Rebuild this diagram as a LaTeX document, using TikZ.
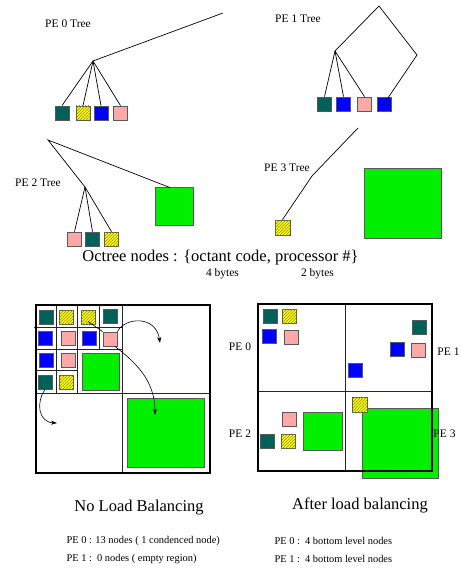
\documentclass[tikz,border=0pt]{standalone}
\usepackage{fontspec}
\setmainfont{Liberation Serif}
\usetikzlibrary{arrows.meta, patterns}
\definecolor{octteal}{HTML}{00605A}
\definecolor{octblue}{HTML}{0000FF}
\definecolor{octpink}{HTML}{FFA8A8}
\definecolor{octyellow}{HTML}{FFFF00}
\definecolor{octgreen}{HTML}{00F000}
\definecolor{hatch}{HTML}{8A8A00}

\begin{document}
\begin{tikzpicture}[x=1pt, y=-1pt,
    sq/.style     = {draw=black!65, line width=0.8pt, inner sep=0pt, minimum size=14pt},
    tsq/.style    = {sq, fill=octteal},
    bsq/.style    = {sq, fill=octblue},
    psq/.style    = {sq, fill=octpink},
    ysq/.style    = {sq, fill=octyellow, postaction={pattern=north east lines, pattern color=hatch}},
    gsq/.style    = {draw=black!65, line width=0.8pt, inner sep=0pt, fill=octgreen},
    branch/.style = {line width=0.7pt},
    cell/.style   = {line width=0.6pt, black!85},
    frame/.style  = {line width=1.3pt},
    migr/.style   = {line width=0.6pt, -{Stealth[length=6pt, width=4pt]}},
    lbl/.style    = {font=\fontsize{11.5}{13}\selectfont},
    big/.style    = {font=\fontsize{16.5}{19}\selectfont},
    note/.style   = {font=\fontsize{10.4}{12}\selectfont, anchor=west},
  ]
    \useasboundingbox (0,0) rectangle (461,569);

    %% ── PE 0 tree ───────────────────────────────────────────────────────────
    \node[lbl] (t0lbl) at (68,24) {PE 0 Tree};
    \coordinate (t0top) at (223,13);
    \coordinate (t0root) at (93,61);
    \node[tsq] (t0a) at (62,113)  {};
    \node[ysq] (t0b) at (83,113)  {};
    \node[bsq] (t0c) at (101,113) {};
    \node[psq] (t0d) at (120.5,113) {};
    \draw[branch] (t0top) -- (t0root);
    \foreach \n in {t0a,t0b,t0c,t0d}
        \draw[branch] (t0root) -- (\n.north);

    %% ── PE 1 tree ───────────────────────────────────────────────────────────
    \node[lbl] (t1lbl) at (298,19) {PE 1 Tree};
    \coordinate (t1top) at (379,6);
    \coordinate (t1root) at (335,51);
    \coordinate (t1right) at (417,55);
    \node[tsq] (t1a) at (324.5,104) {};
    \node[bsq] (t1b) at (343.5,104) {};
    \node[psq] (t1c) at (364.5,104) {};
    \node[bsq] (t1d) at (384.5,104) {};
    \draw[branch] (t1root) -- (t1top) -- (t1right) -- ([shift={(-2,2)}]t1d.center);
    \foreach \n in {t1a,t1b,t1c}
        \draw[branch] (t1root) -- (\n.north);

    %% ── PE 2 tree ───────────────────────────────────────────────────────────
    \node[lbl] (t2lbl) at (38,183) {PE 2 Tree};
    \coordinate (t2top) at (48,140);
    \coordinate (t2root) at (85,187);
    \node[gsq, minimum width=38pt, minimum height=38pt] (t2g) at (174,206) {};
    \node[psq] (t2a) at (74.5,239)  {};
    \node[tsq] (t2b) at (92.5,239)  {};
    \node[ysq] (t2c) at (111.5,239) {};
    \draw[branch] (t2root) -- (t2top) -- ([shift={(-4,1)}]t2g.north);
    \foreach \n in {t2a,t2b,t2c}
        \draw[branch] (t2root) -- (\n.north);

    %% ── PE 3 tree ───────────────────────────────────────────────────────────
    \node[lbl] (t3lbl) at (287,168) {PE 3 Tree};
    \coordinate (t3top) at (358,128);
    \coordinate (t3mid) at (312,176);
    \node[ysq, minimum size=15pt] (t3a) at (282.5,227.5) {};
    \node[gsq, minimum width=77pt, minimum height=70pt] (t3g) at (402.5,203) {};
    \draw[branch] (t3top) -- (t3mid) -- (t3a.north);

    %% Octree node format
    \node[big] (fmt) at (220.5,258) {Octree nodes : \{octant code, processor \#\}};
    \node[lbl] (b4) at (222.5,274) {4 bytes};
    \node[lbl] (b2) at (317.5,274) {2 bytes};

    %% ── No load balancing ───────────────────────────────────────────────────
    \node[gsq, minimum width=77pt, minimum height=69pt] (Lg) at (165.5,432.5) {};
    \draw[cell] (122,305) -- (122,473)  (36,393) -- (210,393);
    \draw[cell] (77,305) -- (77,393)  (56,305) -- (56,393)  (99,305) -- (99,349);
    \draw[cell] (36,349) -- (122,349)  (34,327) -- (122,327)  (36,370) -- (77,370);
    \node[gsq, minimum width=37pt, minimum height=37pt] (Lg2) at (100.5,371.5) {};

    \node[tsq] (L11) at (46,317.5)  {};
    \node[ysq] (L12) at (66,317.5)  {};
    \node[ysq] (L13) at (88,317.5)  {};
    \node[tsq] (L14) at (110,316)   {};
    \node[bsq] (L21) at (45,338.5)  {};
    \node[psq] (L22) at (68,338.5)  {};
    \node[bsq] (L23) at (89.5,338.5) {};
    \node[psq] (L24) at (110,339)   {};
    \node[bsq] (L31) at (46.5,360.5) {};
    \node[psq] (L32) at (68,360.5)  {};
    \node[tsq] (L41) at (45,382)    {};
    \node[ysq] (L42) at (66.5,382)  {};

    \draw[frame] (36,305) rectangle (210,473);

    %% migrations out of the crowded quadrant
    \coordinate (toPE1) at (160,343);
    \coordinate (toPE3) at (155,415);
    \coordinate (toPE2) at (57,423);
    \draw[branch, line width=0.6pt] ([shift={(0,4)}]L13.center) -- (L24.north west);
    \draw[migr] (L24.north east) .. controls (125,317) and (156,315) .. (toPE1);
    \draw[migr] ([shift={(5,0)}]L24.south) .. controls (135,362) and (155,380) .. (toPE3);
    \draw[migr] (L41.south) .. controls (36,402) and (38,422) .. (toPE2);

    %% ── After load balancing ────────────────────────────────────────────────
    \node[gsq, minimum width=76pt, minimum height=70pt] (Rg) at (400,443) {};
    \draw[cell] (345,304) -- (345,471)  (258,391) -- (432,391);

    % PE 0
    \node[tsq] (R01) at (270,316)    {};
    \node[ysq] (R02) at (289.5,316)  {};
    \node[bsq] (R03) at (269,336.5)  {};
    \node[psq] (R04) at (291.5,337.5) {};
    % PE 1
    \node[tsq] (R11) at (419,327)    {};
    \node[bsq] (R12) at (397.5,349.5) {};
    \node[psq] (R13) at (418.5,350)  {};
    \node[bsq] (R14) at (355.5,370.5) {};
    % PE 2
    \node[psq] (R21) at (289,419.5)  {};
    \node[tsq] (R22) at (267,441.5)  {};
    \node[ysq] (R23) at (288.5,441.5) {};
    \node[gsq, minimum width=39pt, minimum height=38pt] (R24) at (322.5,431) {};

    \draw[frame] (258,304) rectangle (432,471);
    % PE 3
    \node[ysq, minimum size=15pt] (R31) at (360,404.5) {};

    \node[lbl] (pe0) at (240,347)   {PE 0};
    \node[lbl] (pe1) at (448.5,352) {PE 1};
    \node[lbl] (pe2) at (240,434)   {PE 2};
    \node[lbl] (pe3) at (444.5,434) {PE 3};

    %% ── Captions ────────────────────────────────────────────────────────────
    \node[big] (capL) at (139,508) {No Load Balancing};
    \node[big] (capR) at (360,505) {After load balancing};
    \node[note] (nL0) at (63,541) {PE 0 : 13 nodes ( 1 condenced node)};
    \node[note] (nL1) at (63,559) {PE 1 :\ \ 0 nodes ( empty region)};
    \node[note] (nR0) at (271,541) {PE 0 :\ \ 4 bottom level nodes};
    \node[note] (nR1) at (271,559) {PE 1 :\ \ 4 bottom level nodes};

\end{tikzpicture}
\end{document}
